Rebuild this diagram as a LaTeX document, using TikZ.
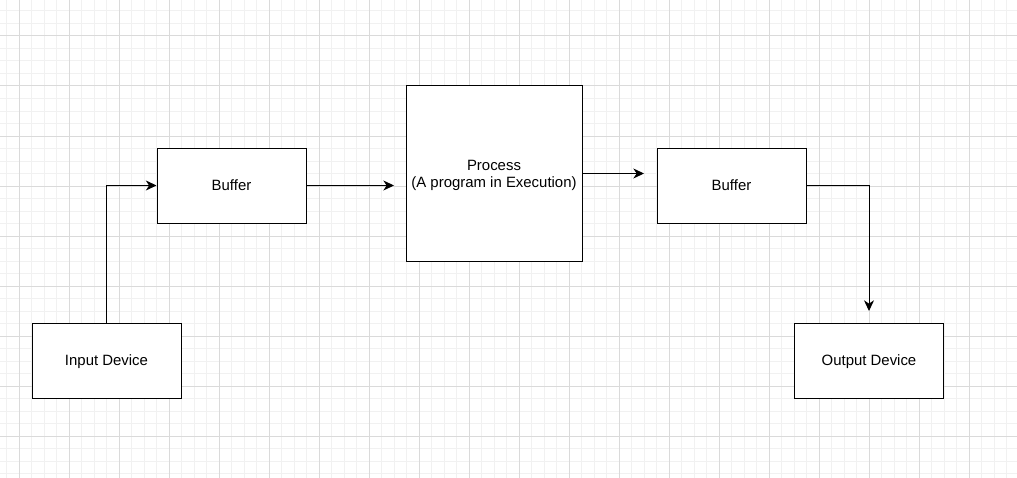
\documentclass[tikz,border=0pt]{standalone}
\usepackage{fontspec}
\setmainfont{Liberation Sans}
\usetikzlibrary{arrows.meta}
\definecolor{gridmajor}{HTML}{DADADA}
\definecolor{gridminor}{HTML}{F1F1F1}
\begin{document}
\begin{tikzpicture}[x=0.75pt,y=-0.75pt,
  box/.style={draw=black,line width=0.75pt,fill=white,minimum width=111.75pt,minimum height=56.25pt,inner sep=0pt,font=\fontsize{11.2}{13.4}\selectfont,align=center,text height=8pt,text depth=0pt},
  conn/.style={line width=0.75pt,draw=black,-{Stealth[length=8pt,width=7.5pt,inset=2.5pt]}}]
\useasboundingbox (0,0) rectangle (1017,478);
\fill[white] (0,0) rectangle (1017,478);
\foreach \x in {6.5,19,...,1017} \draw[gridminor,line width=0.75pt] (\x,0) -- (\x,478);
\foreach \y in {11,23.5,...,478} \draw[gridminor,line width=0.75pt] (0,\y) -- (1017,\y);
\foreach \x in {19,69,...,1017} \draw[gridmajor,line width=0.75pt] (\x,0) -- (\x,478);
\foreach \y in {36,86,...,478} \draw[gridmajor,line width=0.75pt] (0,\y) -- (1017,\y);
\node[box] (input) at (106.5,360.5) {Input Device};
\node[box] (buf1) at (231.5,185.5) {Buffer};
\node[box,minimum width=132pt,minimum height=131.25pt,text height=,text depth=] (proc) at (494,173.5) {\raisebox{-1.4pt}[\height][\depth]{Process}\\\raisebox{-1.4pt}[\height][\depth]{(A program in Execution)}};
\node[box] (buf2) at (731.5,185.5) {Buffer};
\node[box] (output) at (869,360.5) {Output Device};
\coordinate (p1) at (394,185.5);
\coordinate (p2) at (644,173.5);
\coordinate (p3) at (869,311);
\draw[conn] (input.north) |- (buf1.west);
\draw[conn] (buf1.east) -- (p1);
\draw[conn] (proc.east) -- (p2);
\draw[conn] (buf2.east) -| (p3);
\end{tikzpicture}
\end{document}
